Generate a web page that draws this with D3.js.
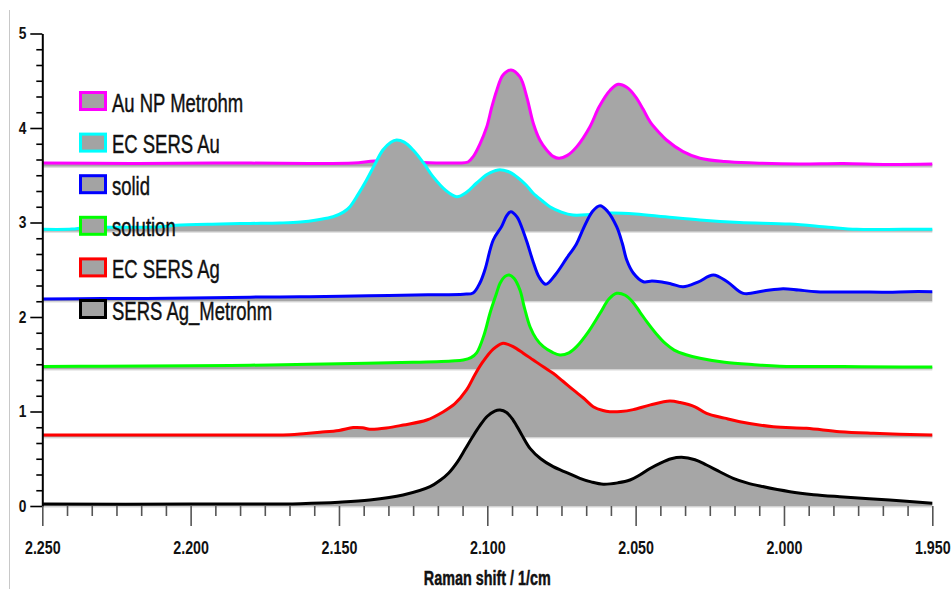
<!DOCTYPE html>
<html>
<head>
<meta charset="utf-8">
<script src="https://cdn.jsdelivr.net/npm/d3@7"></script>
<style>
  html, body { margin: 0; padding: 0; background: #fff; }
  svg { display: block; }
</style>
</head>
<body>
<svg id="chart" width="952" height="589"></svg>
<script>
// Stacked (offset) Raman spectra, x = Raman shift in 1/cm, y = offset intensity
const seriesNames = ["Au NP Metrohm", "EC SERS Au", "solid", "solution", "EC SERS Ag", "SERS Ag_Metrohm"];
const seriesColors = ["#ff00ff", "#00ffff", "#0000ff", "#00ff00", "#ff0000", "#000000"];

// [Raman shift, intensity]
const auNpMetrohm = [
  [2250, 3.63], [2220, 3.625], [2190, 3.63], [2160, 3.625], [2145, 3.63], [2138, 3.65], [2132, 3.645],
  [2122, 3.635], [2110, 3.63], [2106.5, 3.64], [2104.7, 3.70], [2102.5, 3.83], [2100.2, 4.01], [2098.5, 4.22],
  [2096.8, 4.40], [2094.7, 4.56], [2092, 4.614], [2089, 4.54], [2086.7, 4.33], [2084.5, 4.05], [2082.3, 3.873],
  [2080, 3.767], [2077.8, 3.70], [2075.8, 3.679], [2073, 3.71], [2069.9, 3.80], [2065.4, 4.014], [2062.3, 4.225],
  [2058.6, 4.40], [2055.9, 4.462], [2053, 4.43], [2050, 4.33], [2047.5, 4.20], [2045, 4.06], [2042, 3.95],
  [2039.6, 3.873], [2034, 3.75], [2028.3, 3.68], [2020, 3.645], [2010, 3.63], [1995, 3.62], [1980, 3.625],
  [1965, 3.615], [1950, 3.62]
];
const ecSersAu = [
  [2250, 2.928], [2240, 2.93], [2236, 2.945], [2225, 2.95], [2210, 2.955], [2205, 2.972], [2190, 2.984],
  [2180, 2.99], [2170, 2.995], [2163, 3.005], [2157, 3.03], [2152, 3.061], [2148.5, 3.11], [2146.3, 3.167],
  [2143.5, 3.30], [2140.7, 3.45], [2138, 3.61], [2135.2, 3.767], [2132.5, 3.85], [2130.6, 3.873], [2128, 3.85],
  [2125, 3.767], [2121.5, 3.63], [2118.3, 3.485], [2114, 3.34], [2110.3, 3.273], [2107, 3.32], [2103.6, 3.418],
  [2100, 3.51], [2096.4, 3.556], [2093, 3.54], [2090.1, 3.485], [2087, 3.40], [2084.6, 3.312], [2081.5, 3.23],
  [2078.9, 3.167], [2075, 3.11], [2071.1, 3.079], [2065, 3.085], [2058.7, 3.10], [2050, 3.09], [2040, 3.06],
  [2028.3, 3.026], [2015, 3.00], [1998, 2.984], [1985, 2.95], [1975.5, 2.928], [1960, 2.928], [1950, 2.928]
];
const solid = [
  [2250, 2.19], [2230, 2.195], [2200, 2.20], [2180, 2.21], [2160, 2.215], [2140, 2.225], [2120, 2.235],
  [2108, 2.242], [2104.8, 2.254], [2102.5, 2.36], [2100.8, 2.50], [2098, 2.815], [2095.2, 2.956], [2093.5, 3.07],
  [2092.1, 3.114], [2090, 3.06], [2088.4, 2.95], [2086.5, 2.78], [2084.5, 2.58], [2082.5, 2.42], [2080.3, 2.346],
  [2077, 2.45], [2073.3, 2.62], [2070, 2.77], [2067.7, 2.93], [2064.5, 3.12], [2062, 3.178], [2059.5, 3.12],
  [2056.4, 2.956], [2054.5, 2.78], [2053, 2.603], [2050.8, 2.466], [2047.4, 2.373], [2044.5, 2.38], [2041.8, 2.373],
  [2038, 2.35], [2034, 2.32], [2029, 2.37], [2023.8, 2.444], [2019, 2.37], [2013.7, 2.25], [2007, 2.275],
  [2000.3, 2.30], [1995, 2.285], [1989, 2.268], [1975, 2.265], [1965, 2.262], [1958, 2.268], [1950, 2.268]
];
const solution = [
  [2250, 1.475], [2230, 1.48], [2200, 1.485], [2180, 1.49], [2160, 1.50], [2140.7, 1.51], [2125, 1.52],
  [2112, 1.535], [2108.1, 1.545], [2105.5, 1.57], [2103.6, 1.62], [2101, 1.82], [2099.1, 2.04], [2097, 2.24],
  [2095.7, 2.357], [2094, 2.43], [2092.6, 2.444], [2091, 2.41], [2089, 2.286], [2087.5, 2.10], [2085.6, 1.897],
  [2083.5, 1.77], [2081.1, 1.686], [2078, 1.625], [2075.5, 1.598], [2072.5, 1.62], [2069.9, 1.686], [2066, 1.84],
  [2062, 2.039], [2059, 2.19], [2056.4, 2.251], [2053.5, 2.23], [2051, 2.16], [2048.5, 2.05], [2046, 1.94],
  [2043, 1.82], [2040, 1.72], [2037, 1.65], [2033, 1.60], [2028.3, 1.563], [2020, 1.52], [2010, 1.495],
  [2001.4, 1.48], [1980, 1.475], [1960, 1.47], [1950, 1.47]
];
const ecSersAg = [
  [2250, 0.751], [2200, 0.751], [2175, 0.752], [2166.5, 0.755], [2162, 0.765], [2156.4, 0.78], [2150, 0.80],
  [2145.2, 0.83], [2142, 0.828], [2139.6, 0.812], [2134, 0.825], [2128.3, 0.857], [2120.4, 0.91], [2114.8, 0.998],
  [2111, 1.08], [2107, 1.228], [2104, 1.40], [2101.4, 1.53], [2098, 1.66], [2095, 1.72], [2093, 1.71],
  [2091.3, 1.686], [2088, 1.62], [2084.5, 1.545], [2081, 1.47], [2077.8, 1.404], [2074.5, 1.32], [2071, 1.228],
  [2067.5, 1.14], [2064.3, 1.051], [2061, 1.01], [2058.7, 0.998], [2055, 1.0], [2050.8, 1.02], [2045, 1.07],
  [2038.5, 1.11], [2035, 1.095], [2030, 1.05], [2026.1, 0.981], [2020, 0.93], [2014.9, 0.892], [2003.6, 0.839],
  [1992.4, 0.822], [1981.2, 0.786], [1969.9, 0.769], [1950, 0.751]
];
const sersAgMetrohm = [
  [2250, 0.02], [2200, 0.02], [2170, 0.022], [2163, 0.025], [2150, 0.04], [2139.6, 0.063], [2128.4, 0.116],
  [2119.3, 0.204], [2116, 0.27], [2113, 0.35], [2110, 0.47], [2107.5, 0.60], [2105, 0.73], [2102.5, 0.85],
  [2100, 0.95], [2097.5, 1.005], [2095.7, 1.016], [2093.5, 0.99], [2091.3, 0.91], [2088.5, 0.76], [2085.6, 0.61],
  [2082, 0.50], [2077.8, 0.416], [2073, 0.35], [2068.8, 0.293], [2065, 0.255], [2060.9, 0.23], [2056, 0.245],
  [2051.9, 0.275], [2048.6, 0.328], [2045, 0.40], [2041.8, 0.452], [2038, 0.50], [2034.5, 0.515], [2030, 0.49],
  [2026.1, 0.434], [2021.5, 0.36], [2017.1, 0.293], [2012.5, 0.245], [2008.1, 0.212], [1998, 0.151], [1990, 0.12],
  [1981.2, 0.098], [1964.4, 0.063], [1950, 0.029]
];
const allSeries = [auNpMetrohm, ecSersAu, solid, solution, ecSersAg, sersAgMetrohm];

const xMajorTicks = [2250, 2200, 2150, 2100, 2050, 2000, 1950];
const yMajorTicks = [0, 1, 2, 3, 4, 5];
const xTitle = "Raman shift / 1/cm";

const FONT = "'Liberation Sans', Arial, sans-serif";
const svg = d3.select("#chart");

const x = d3.scaleLinear().domain([2250, 1950]).range([42.3, 932.3]);
const y = d3.scaleLinear().domain([0, 5]).range([506, 33.5]);

// German-style number grouping: 2250 -> "2.250"
const de = d3.formatLocale({ decimal: ",", thousands: ".", grouping: [3], currency: ["", " €"] });
const fmtX = de.format(",");

// thin frame line on the left
svg.append("line")
  .attr("x1", 9.5).attr("x2", 9.5).attr("y1", 10).attr("y2", 589)
  .attr("stroke", "#c8c8c8").attr("stroke-width", 1);

// spectra: grey fill down to each trace's own baseline, coloured trace on top
const curve = d3.curveCatmullRom.alpha(0.5);
const plot = svg.append("g");
allSeries.forEach((data, i) => {
  const base = d3.min(data, d => d[1]) - 0.025;
  const area = d3.area()
    .x(d => x(d[0])).y0(y(base)).y1(d => y(d[1]))
    .curve(curve);
  const line = d3.line()
    .x(d => x(d[0])).y(d => y(d[1]))
    .curve(curve);
  plot.append("path").attr("d", area(data)).attr("fill", "#a6a6a6");
  plot.append("line")
    .attr("x1", x(2250)).attr("x2", x(1950))
    .attr("y1", y(base) + 0.5).attr("y2", y(base) + 0.5)
    .attr("stroke", "#d4d4d4").attr("stroke-width", 1);
  plot.append("path").attr("d", line(data))
    .attr("fill", "none").attr("stroke", seriesColors[i])
    .attr("stroke-width", 3).attr("stroke-linejoin", "round");
});

// y axis
const yMinor = d3.range(0, 5.0001, 1 / 6).filter(v => Math.abs(v - Math.round(v)) > 1e-6);
const yAxisG = svg.append("g").attr("transform", `translate(${x(2250)},0)`);
yAxisG.call(d3.axisLeft(y).tickValues(yMajorTicks).tickSize(12).tickSizeOuter(0).tickFormat(d3.format("d")));
yAxisG.select(".domain").attr("stroke", "#000").attr("stroke-width", 2);
yAxisG.selectAll(".tick line").attr("stroke", "#000").attr("stroke-width", 1.6);
yAxisG.selectAll(".tick text")
  .attr("x", null).attr("dy", null)
  .attr("transform", "translate(-16,5) scale(0.86,1.02)")
  .attr("text-anchor", "end")
  .style("font-family", FONT).style("font-size", "16px").style("font-weight", "bold").attr("fill", "#111");
const yMinorG = svg.append("g").attr("transform", `translate(${x(2250)},0)`);
yMinorG.call(d3.axisLeft(y).tickValues(yMinor).tickSize(6).tickFormat(""));
yMinorG.select(".domain").remove();
yMinorG.selectAll(".tick line").attr("stroke", "#000").attr("stroke-width", 1.6);

// x axis (reversed)
const xMinor = d3.range(1950, 2250.0001, 50 / 6).filter(v => Math.abs(v / 50 - Math.round(v / 50)) > 1e-6);
const xAxisG = svg.append("g").attr("transform", `translate(0,${y(0)})`);
xAxisG.call(d3.axisBottom(x).tickValues(xMajorTicks).tickSize(20).tickSizeOuter(0).tickFormat(fmtX));
xAxisG.select(".domain").remove();
xAxisG.selectAll(".tick line").attr("stroke", "#555").attr("stroke-width", 1.6);
xAxisG.selectAll(".tick text")
  .attr("y", null).attr("dy", null)
  .attr("transform", "translate(0,48) scale(0.84,1.09)")
  .style("font-family", FONT).style("font-size", "17px").style("font-weight", "bold").attr("fill", "#111");
const xMinorG = svg.append("g").attr("transform", `translate(0,${y(0)})`);
xMinorG.call(d3.axisBottom(x).tickValues(xMinor).tickSize(10).tickFormat(""));
xMinorG.select(".domain").remove();
xMinorG.selectAll(".tick line").attr("stroke", "#555").attr("stroke-width", 1.6);

// axis title
svg.append("text")
  .attr("transform", `translate(${(x(2250) + x(1950)) / 2},584.5) scale(0.845,1.18)`)
  .attr("text-anchor", "middle")
  .style("font-family", FONT).style("font-size", "17px").style("font-weight", "bold")
  .attr("fill", "#111").attr("stroke", "#111").attr("stroke-width", 0.4)
  .text(xTitle);

// legend
const legend = svg.append("g");
seriesNames.forEach((name, i) => {
  const cy = 101 + i * 41.6;
  legend.append("rect")
    .attr("x", 80.5).attr("y", cy - 8.5).attr("width", 25).attr("height", 17)
    .attr("fill", "#a3a3a3").attr("stroke", seriesColors[i]).attr("stroke-width", 3);
  legend.append("text")
    .attr("transform", `translate(112,${cy + 10.5}) scale(0.88,1.26)`)
    .style("font-family", FONT).style("font-size", "21px")
    .attr("fill", "#111").attr("stroke", "#111").attr("stroke-width", 0.35)
    .text(name);
});
</script>
</body>
</html>
